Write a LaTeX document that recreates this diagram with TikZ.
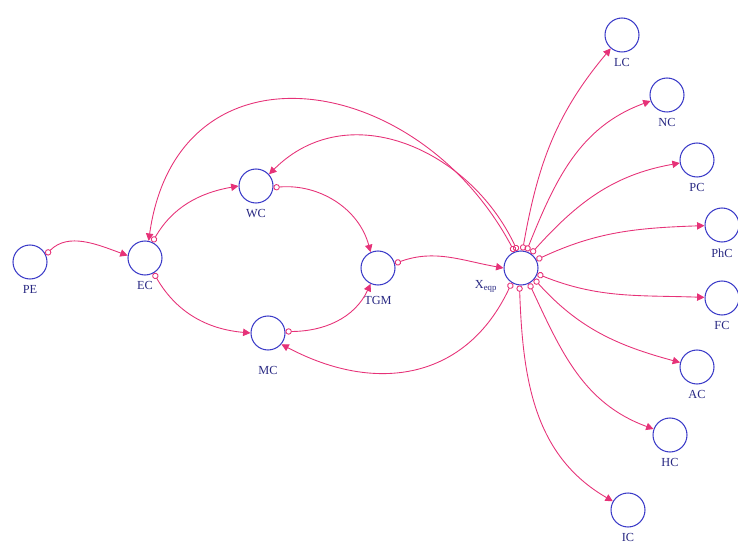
\documentclass[tikz,border=0pt]{standalone}
\usepackage{fontspec}
\setmainfont{Liberation Serif}
\usepackage{xcolor}
\usepackage{tikz}
\usetikzlibrary{arrows.meta,positioning}

\definecolor{varblue}{RGB}{60,60,200}
\definecolor{labblue}{RGB}{40,40,130}
\definecolor{linkpink}{RGB}{230,50,120}

\begin{document}
\begin{tikzpicture}[
  x=0.02cm, y=-0.02cm,
  var/.style={circle, draw=varblue, line width=0.6pt, minimum size=0.68cm, inner sep=0pt,
    label distance=0.16cm},
  lab/.style={font=\fontsize{7}{8}\selectfont, text=labblue},
  link/.style={draw=linkpink, line width=0.5pt,
    {Circle[open,length=3.6pt,width=3.6pt]}-{Triangle[length=4.2pt,width=4.2pt]}},
  every label/.style={lab}
]
  \useasboundingbox (0,0) rectangle (738,544);

  % Core variables
  \node[var, label=below:PE] (pe) at (30,262) {};
  \node[var, label=below:EC] (ec) at (145,258) {};
  \node[var, label=below:WC] (wc) at (256,186) {};
  \node[var, label={[label distance=0.2cm]below:MC}] (mc) at (268,333) {};
  \node[var, label={[label distance=0.1cm]below:TGM}] (tgm) at (378,268) {};
  \node[var, label={[label distance=0.02cm]200:X$_{\mathrm{eqp}}$}] (x) at (521,268) {};

  % Output variables
  \foreach \n/\px/\py/\t in {lc/622/35/LC, nc/667/95/NC, pc/697/160/PC, phc/722/225/PhC,
                            fc/722/298/FC, ac/697/367/AC, hc/670/435/HC, ic/628/510/IC} {
    \node[var, label=below:\t] (\n) at (\px,\py) {};
  }

  % Chain links
  \draw[link] (pe.25) to[out=45,in=160] (ec.172);
  \draw[link] (ec.65) to[out=60,in=190] (wc.180);
  \draw[link] (ec.-60) to[out=-60,in=175] (mc.180);
  \draw[link] (wc.-5) to[out=5,in=105] (tgm.115);
  \draw[link] (mc.5) to[out=0,in=245] (tgm.245);
  \draw[link] (tgm.15) to[out=20,in=170] (x.180);

  % Feedback links
  \draw[link] (x.112) to[out=118,in=82,looseness=1.45] (ec.78);
  \draw[link] (x.102) to[out=115,in=45,looseness=1.1] (wc.42);
  \draw[link] (x.-122) to[out=-115,in=-28,looseness=1.15] (mc.-40);

  % Links to outputs
  \foreach \n/\a/\o/\i in {lc/85/80/-130, nc/72/68/200, pc/55/48/190, phc/28/25/182,
                          fc/-20/-22/178, ac/-40/-48/165, hc/-62/-65/160, ic/-95/-88/150} {
    \draw[link] (x.\a) to[out=\o,in=\i] (\n);
  }
\end{tikzpicture}
\end{document}
